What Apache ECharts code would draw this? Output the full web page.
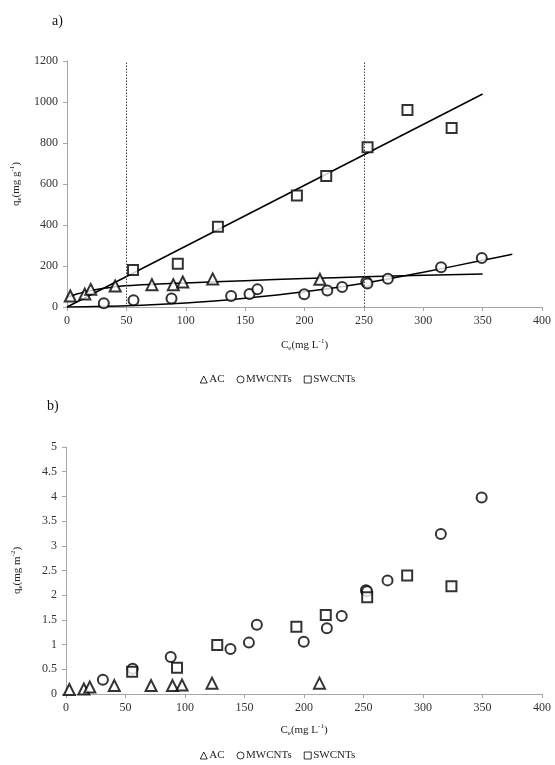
<!DOCTYPE html>
<html>
<head>
<meta charset="utf-8">
<script src="https://cdn.jsdelivr.net/npm/echarts@6/dist/echarts.min.js"></script>
<style>
  html, body { margin: 0; padding: 0; background: #fff; }
  #chart { width: 555px; height: 765px; }
</style>
</head>
<body>
<div id="chart"></div>
<script>
// x values (Ce, mg/L) shared by both panels
var xAC = [2.8, 15, 20, 40.6, 71.5, 89.5, 97.5, 122.7, 213]
var xMW = [31, 56, 88, 138.2, 153.7, 160.4, 199.8, 219.2, 231.7, 252, 253, 270.2, 315, 349.3]
var xSW = [55.6, 93.3, 127.1, 193.6, 218.3, 253.1, 286.7, 323.9]

// panel a) qe in mg/g
var acTop = [54, 63, 86, 102, 109, 109, 122, 137, 135]
var mwTop = [18, 33, 42, 54, 63, 86, 62, 81, 98, 122, 115, 138, 194, 239]
var swTop = [181, 211, 392, 544, 639, 779, 961, 873]

// trend lines read off panel a)
var acFitX = [0, 10, 20, 40, 60, 100, 150, 200, 250, 300, 350]
var acFitY = [48, 66, 81, 98, 107, 117, 128, 139, 147, 155, 161]
var mwFitX = [0, 50, 100, 150, 200, 250, 300, 350, 375]
var mwFitY = [0, 6, 20, 43, 74, 116, 169, 228, 257]
var swFitX = [0, 350]
var swFitY = [0, 1039]

// panel b) qe in mg/m2
var acBottom = [0.09, 0.10, 0.14, 0.17, 0.17, 0.17, 0.18, 0.22, 0.22]
var mwBottom = [0.29, 0.51, 0.75, 0.91, 1.04, 1.40, 1.06, 1.33, 1.58, 2.10, 2.08, 2.30, 3.24, 3.98]
var swBottom = [0.45, 0.53, 0.99, 1.36, 1.60, 1.96, 2.40, 2.18]

var legendNames = ['AC', 'MWCNTs', 'SWCNTs']
var dashX = [50, 250]

var FONT = '"Liberation Serif", "DejaVu Serif", serif'
var AXIS_GRAY = '#a6a6a6'

function pairs(xs, ys) {
  return xs.map(function(x, i) { return [x, ys[i]] })
}

function marker(name, symbol, data, idx) {
  return {
    name: name,
    type: 'scatter',
    xAxisIndex: idx,
    yAxisIndex: idx,
    symbol: symbol,
    symbolSize: symbol === 'triangle' ? 11 : 10,
    data: data,
    z: 3,
    itemStyle: {
      color: '#fff',
      borderColor: '#000',
      borderWidth: 2
    }
  }
}

function fitLine(name, data) {
  return {
    name: name,
    type: 'line',
    xAxisIndex: 0,
    yAxisIndex: 0,
    data: data,
    smooth: 0.3,
    symbol: 'none',
    z: 2,
    silent: true,
    lineStyle: { color: '#000', width: 1.5 }
  }
}

var richName = {
  b: { fontFamily: FONT, fontSize: 11, color: '#222', lineHeight: 14 },
  s: { fontFamily: FONT, fontSize: 7, color: '#222', verticalAlign: 'bottom', lineHeight: 14 },
  p: { fontFamily: FONT, fontSize: 7, color: '#222', verticalAlign: 'top', lineHeight: 14 }
}

function xAxisOf(idx) {
  return {
    type: 'value',
    gridIndex: idx,
    min: 0,
    max: 400,
    interval: 50,
    name: '{b|C}{s|e}{b|(mg L}{p|-1}{b|)}',
    nameLocation: 'middle',
    nameGap: idx === 0 ? 31 : 29,
    nameTextStyle: { rich: richName },
    splitLine: { show: false },
    axisLine: { lineStyle: { color: AXIS_GRAY, width: 1 } },
    axisTick: { length: 4, lineStyle: { color: AXIS_GRAY } },
    axisLabel: { fontFamily: FONT, fontSize: 12, color: '#333', margin: 8 }
  }
}

function yAxisOf(idx, max, interval, unit) {
  return {
    type: 'value',
    gridIndex: idx,
    min: 0,
    max: max,
    interval: interval,
    name: '{b|q}{s|e}{b|(mg ' + unit + '}{p|' + (idx === 0 ? '-1' : '-2') + '}{b|)}',
    nameLocation: 'middle',
    nameGap: idx === 0 ? 40 : 42,
    nameTextStyle: { rich: richName },
    splitLine: { show: false },
    axisLine: { show: true, lineStyle: { color: AXIS_GRAY, width: 1 } },
    axisTick: { show: true, length: 4, lineStyle: { color: AXIS_GRAY } },
    axisLabel: {
      fontFamily: FONT,
      fontSize: 12,
      color: '#333',
      margin: 9,
      formatter: function(v) { return String(v) }
    }
  }
}

function legendOf(top) {
  return {
    top: top,
    left: 'center',
    data: legendNames,
    itemWidth: 7,
    itemHeight: 7,
    itemGap: 12,
    selectedMode: false,
    itemStyle: { borderWidth: 1 },
    textStyle: { fontFamily: FONT, fontSize: 11, color: '#222', padding: [0, 0, 0, -3] }
  }
}

var chart = echarts.init(document.getElementById('chart'), null, { renderer: 'canvas' })

var swTopSeries = marker('SWCNTs', 'rect', pairs(xSW, swTop), 0)
swTopSeries.markLine = {
  silent: true,
  symbol: 'none',
  label: { show: false },
  lineStyle: { type: [1.5, 1.5], color: '#444', width: 1 },
  data: dashX.map(function(v) { return { xAxis: v } })
}

var option = {
  animation: false,
  backgroundColor: '#fff',
  graphic: [
    { type: 'text', left: 52, top: 14, style: { text: 'a)', font: '14px ' + FONT, fill: '#111' } },
    { type: 'text', left: 47, top: 399, style: { text: 'b)', font: '14px ' + FONT, fill: '#111' } }
  ],
  grid: [
    { left: 67, top: 61, width: 475, height: 246 },
    { left: 66, top: 447, width: 476, height: 247 }
  ],
  legend: [legendOf(369), legendOf(745)],
  xAxis: [xAxisOf(0), xAxisOf(1)],
  yAxis: [yAxisOf(0, 1200, 200, 'g'), yAxisOf(1, 5, 0.5, 'm')],
  series: [
    fitLine('SWCNTs fit', pairs(swFitX, swFitY)),
    fitLine('AC fit', pairs(acFitX, acFitY)),
    fitLine('MWCNTs fit', pairs(mwFitX, mwFitY)),
    marker('AC', 'triangle', pairs(xAC, acTop), 0),
    marker('MWCNTs', 'circle', pairs(xMW, mwTop), 0),
    swTopSeries,
    marker('AC', 'triangle', pairs(xAC, acBottom), 1),
    marker('MWCNTs', 'circle', pairs(xMW, mwBottom), 1),
    marker('SWCNTs', 'rect', pairs(xSW, swBottom), 1)
  ]
}

chart.setOption(option)
</script>
</body>
</html>
